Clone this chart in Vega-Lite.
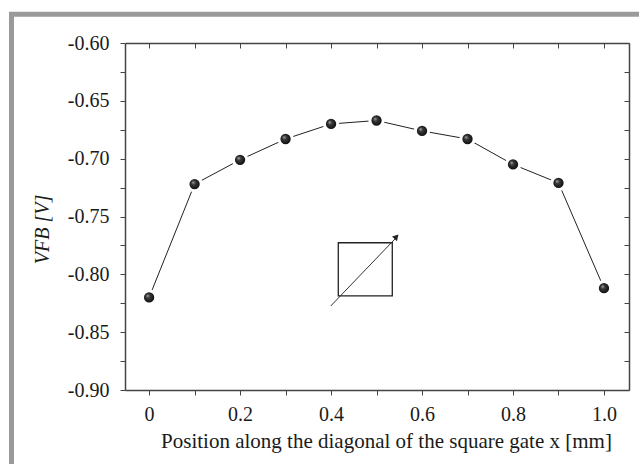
{
  "$schema": "https://vega.github.io/schema/vega-lite/v6.json",
  "width": 504,
  "height": 347,
  "autosize": {"type": "none"},
  "padding": {"left": 125, "top": 43, "right": 10, "bottom": 74},
  "background": "white",
  "config": {
    "view": {"stroke": null},
    "axis": {
      "labelFont": "Liberation Serif",
      "labelFontSize": 20,
      "labelColor": "#1a1a1a",
      "titleFont": "Liberation Serif",
      "titleFontSize": 21,
      "titleFontWeight": "normal",
      "titleColor": "#1a1a1a",
      "domainColor": "#444444",
      "domainWidth": 1.5,
      "tickColor": "#444444",
      "tickWidth": 1,
      "grid": false
    }
  },
  "resolve": {"axis": {"x": "independent", "y": "independent"}},
  "layer": [
    {
      "data": {"values": [{"fx": -0.3025, "fx2": 1.4, "fy": -0.5752, "fy2": -1.2}]},
      "mark": {"type": "rect", "fill": null, "stroke": "#9a9a9a", "strokeWidth": 5, "clip": false},
      "encoding": {
        "x": {"field": "fx", "type": "quantitative", "axis": null},
        "x2": {"field": "fx2"},
        "y": {"field": "fy", "type": "quantitative", "axis": null},
        "y2": {"field": "fy2"}
      }
    },
    {
      "data": {"name": "vfb", "values": [
        {"x": 0.0, "vfb": -0.820},
        {"x": 0.1, "vfb": -0.722},
        {"x": 0.2, "vfb": -0.701},
        {"x": 0.3, "vfb": -0.683},
        {"x": 0.4, "vfb": -0.670},
        {"x": 0.5, "vfb": -0.667},
        {"x": 0.6, "vfb": -0.676},
        {"x": 0.7, "vfb": -0.683},
        {"x": 0.8, "vfb": -0.705},
        {"x": 0.9, "vfb": -0.721},
        {"x": 1.0, "vfb": -0.812}
      ]},
      "layer": [
        {
          "mark": {"type": "line", "color": "#222222", "strokeWidth": 1},
          "encoding": {
            "x": {
              "field": "x", "type": "quantitative",
              "scale": {"domain": [-0.053, 1.055], "nice": false, "zero": false},
              "axis": {
                "orient": "bottom",
                "values": [0, 0.1, 0.2, 0.3, 0.4, 0.5, 0.6, 0.7, 0.8, 0.9, 1.0],
                "labelExpr": "round(datum.value*10) % 2 == 0 ? (datum.value == 0 ? '0' : format(datum.value, '.1f')) : ''",
                "tickSize": 5,
                "labelPadding": 9,
                "title": "Position along the diagonal of the square gate x [mm]",
                "titlePadding": 6,
                "titleX": 261
              }
            },
            "y": {
              "field": "vfb", "type": "quantitative",
              "scale": {"domain": [-0.9, -0.6], "nice": false, "zero": false},
              "axis": {
                "orient": "left",
                "values": [-0.9, -0.875, -0.85, -0.825, -0.8, -0.775, -0.75, -0.725, -0.7, -0.675, -0.65, -0.625, -0.6],
                "labelExpr": "abs(round(datum.value*1000)) % 50 == 0 ? replace(format(datum.value, '.2f'), '\u2212', '-') : ''",
                "tickSize": 5,
                "labelPadding": 11,
                "title": "VFB [V]",
                "titleFontStyle": "italic",
                "titleFontSize": 20,
                "titlePadding": 15,
                "titleY": 186
              }
            }
          }
        },
        {
          "mark": {
            "type": "point", "shape": "circle", "filled": true, "size": 177,
            "fill": {"gradient": "radial", "x1": 0.38, "y1": 0.36, "r1": 0, "x2": 0.5, "y2": 0.5, "r2": 0.5,
              "stops": [{"offset": 0, "color": "#b0b0b0"}, {"offset": 0.3, "color": "#3a3a3a"}, {"offset": 0.8, "color": "#111111"}, {"offset": 1, "color": "#111111"}]},
            "stroke": "white", "strokeWidth": 3, "opacity": 1
          },
          "encoding": {
            "x": {
              "field": "x", "type": "quantitative",
              "axis": {"orient": "top", "values": [0, 0.1, 0.2, 0.3, 0.4, 0.5, 0.6, 0.7, 0.8, 0.9, 1.0], "labels": false, "tickSize": -5, "title": null}
            },
            "y": {
              "field": "vfb", "type": "quantitative",
              "axis": {"orient": "right", "values": [-0.9, -0.875, -0.85, -0.825, -0.8, -0.775, -0.75, -0.725, -0.7, -0.675, -0.65, -0.625, -0.6], "labels": false, "tickSize": -5, "title": null}
            }
          }
        }
      ]
    },
    {
      "data": {"values": [{"sx": 0.4159, "sx2": 0.5346, "sy": -0.7727, "sy2": -0.8187}]},
      "mark": {"type": "rect", "fill": null, "stroke": "#222222", "strokeWidth": 1.3},
      "encoding": {
        "x": {"field": "sx", "type": "quantitative", "axis": null},
        "x2": {"field": "sx2"},
        "y": {"field": "sy", "type": "quantitative", "axis": null},
        "y2": {"field": "sy2"}
      }
    },
    {
      "data": {"values": [{"ax": 0.3992, "ax2": 0.5440, "ay": -0.8274, "ay2": -0.7680}]},
      "mark": {"type": "rule", "stroke": "#333333", "strokeWidth": 1},
      "encoding": {
        "x": {"field": "ax", "type": "quantitative", "axis": null},
        "x2": {"field": "ax2"},
        "y": {"field": "ay", "type": "quantitative", "axis": null},
        "y2": {"field": "ay2"}
      }
    },
    {
      "data": {"values": [{"hx": 0.5438, "hy": -0.7675}]},
      "mark": {"type": "point", "shape": "triangle-up", "filled": true, "size": 45, "angle": 43, "color": "#222222", "opacity": 1},
      "encoding": {
        "x": {"field": "hx", "type": "quantitative", "axis": null},
        "y": {"field": "hy", "type": "quantitative", "axis": null}
      }
    }
  ]
}
